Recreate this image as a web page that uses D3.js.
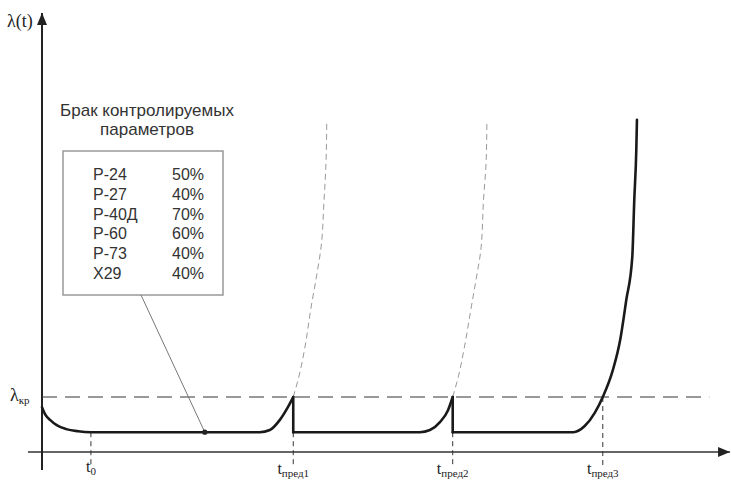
<!DOCTYPE html>
<html>
<head>
<meta charset="utf-8">
<script src="https://cdn.jsdelivr.net/npm/d3@7"></script>
<style>
body { margin: 0; background: #fff; }
svg { display: block; }
.serif { font-family: "Liberation Serif", "DejaVu Serif", serif; fill: #222; }
.legend text { font-family: "Liberation Sans", Arial, sans-serif; font-size: 16px; fill: #333; }
</style>
</head>
<body>
<div class="visHolder"></div>
<script>
// failure rate curve pieces, [t, lambda]
var curveSeg1 = [
  [0, 10.2], [0.45, 8.6], [1.2, 7.3], [2.2, 6.1], [3.6, 5.2], [5.4, 4.7], [7.3, 4.5],
  [32.5, 4.5], [34.0, 5.0], [35.5, 7.3], [36.7, 10.2], [37.5, 12.5]
];
var curveSeg2 = [[37.5, 4.5], [56.4, 4.5], [57.9, 5.0], [59.4, 6.8], [60.6, 9.5], [61.3, 12.5]];
var curveSeg3 = [
  [61.3, 4.5], [79.3, 4.5], [81.0, 5.9], [82.5, 8.9], [83.7, 12.5], [85.2, 18.6],
  [86.3, 25.5], [87.2, 34.5], [88.1, 44.3], [88.4, 57.3], [88.7, 68.6], [88.8, 75.5]
];
// vertical drops after replacement
var dropT = [37.5, 61.3];
// dashed continuations past t_пред1, t_пред2
var contCurve1 = [[37.5, 12.5], [38.4, 17.5], [39.3, 24.3], [40.1, 32.3], [41.0, 40.2], [41.6, 45.9], [42.1, 57.3], [42.4, 66.4], [42.5, 75]];
var contCurve2 = [[61.3, 12.5], [62.2, 17.5], [63.1, 24.3], [64.0, 32.3], [64.9, 40.2], [65.5, 45.9], [65.9, 57.3], [66.3, 66.4], [66.4, 75]];

var lambdaKr = 12.5;
var lambdaFlat = 4.5;
var tickT = [7.3, 37.5, 61.3, 83.7];
var tickTop = [4.5, 4.5, 4.5, 12.5];
var tickSub = ['0', 'пред1', 'пред2', 'пред3'];
var markT = 24.3, markL = 4.5;

var legendNames = ['Р-24', 'Р-27', 'Р-40Д', 'Р-60', 'Р-73', 'Х29'];
var legendValues = ['50%', '40%', '70%', '60%', '40%', '40%'];

var width = 731, height = 481;

var svg = d3.select('.visHolder').append('svg')
  .attr('width', width)
  .attr('height', height);

var xScale = d3.scaleLinear().domain([0, 100]).range([42, 712]);
var yScale = d3.scaleLinear().domain([0, 100]).range([452, 12]);

var defs = svg.append('defs');
defs.append('marker')
  .attr('id', 'arrow')
  .attr('viewBox', '0 0 12 10')
  .attr('refX', 12)
  .attr('refY', 5)
  .attr('markerWidth', 12)
  .attr('markerHeight', 10)
  .attr('markerUnits', 'userSpaceOnUse')
  .attr('orient', 'auto')
  .append('path')
  .attr('d', 'M0,0 L12,5 L0,10 Z')
  .attr('fill', '#222');

// axes
svg.append('line')
  .attr('x1', xScale(-2.1)).attr('y1', yScale(0))
  .attr('x2', xScale(102.7)).attr('y2', yScale(0))
  .attr('stroke', '#333').attr('stroke-width', 1.5)
  .attr('marker-end', 'url(#arrow)');
svg.append('line')
  .attr('x1', xScale(0)).attr('y1', yScale(-4.1))
  .attr('x2', xScale(0)).attr('y2', yScale(99.8))
  .attr('stroke', '#222').attr('stroke-width', 2)
  .attr('marker-end', 'url(#arrow)');

// critical level
svg.append('line')
  .attr('x1', xScale(0)).attr('y1', yScale(lambdaKr))
  .attr('x2', xScale(99.6)).attr('y2', yScale(lambdaKr))
  .attr('stroke', '#333').attr('stroke-width', 1)
  .attr('stroke-dasharray', '15,8');

// tick marker lines
svg.selectAll('.tickline')
  .data(tickT)
  .enter()
  .append('line')
  .attr('class', 'tickline')
  .attr('x1', function(d) { return xScale(d); })
  .attr('x2', function(d) { return xScale(d); })
  .attr('y1', function(d, i) { return yScale(tickTop[i]); })
  .attr('y2', yScale(-3.4))
  .attr('stroke', '#333').attr('stroke-width', 1)
  .attr('stroke-dasharray', '5,4');

var smoothY = d3.line()
  .curve(d3.curveMonotoneY)
  .x(function(d) { return xScale(d[0]); })
  .y(function(d) { return yScale(d[1]); });
var smoothX = d3.line()
  .curve(d3.curveMonotoneX)
  .x(function(d) { return xScale(d[0]); })
  .y(function(d) { return yScale(d[1]); });

[contCurve1, contCurve2].forEach(function(c) {
  svg.append('path')
    .attr('d', smoothY(c))
    .attr('fill', 'none')
    .attr('stroke', '#999').attr('stroke-width', 1)
    .attr('stroke-dasharray', '6,4');
});

[curveSeg1, curveSeg2, curveSeg3].forEach(function(c) {
  svg.append('path')
    .attr('d', smoothX(c))
    .attr('fill', 'none')
    .attr('stroke', '#1a1a1a')
    .attr('stroke-width', 2.6)
    .attr('stroke-linecap', 'round');
});

svg.selectAll('.drop')
  .data(dropT)
  .enter()
  .append('line')
  .attr('class', 'drop')
  .attr('x1', function(d) { return xScale(d); })
  .attr('x2', function(d) { return xScale(d); })
  .attr('y1', yScale(lambdaKr))
  .attr('y2', yScale(lambdaFlat))
  .attr('stroke', '#1a1a1a')
  .attr('stroke-width', 2.6)
  .attr('stroke-linecap', 'round');

// legend
var legend = svg.append('g').attr('class', 'legend');
legend.append('text').attr('x', 147).attr('y', 116).attr('text-anchor', 'middle').style('font-size', '17px').text('Брак контролируемых');
legend.append('text').attr('x', 147).attr('y', 135).attr('text-anchor', 'middle').style('font-size', '17px').text('параметров');
legend.append('rect')
  .attr('x', 63).attr('y', 151).attr('width', 160).attr('height', 144)
  .attr('fill', '#fff').attr('stroke', '#999').attr('stroke-width', 1.5);
legend.selectAll('.lname')
  .data(legendNames)
  .enter()
  .append('text')
  .attr('x', 93)
  .attr('y', function(d, i) { return 180 + i * 19.8; })
  .text(function(d) { return d; });
legend.selectAll('.lval')
  .data(legendValues)
  .enter()
  .append('text')
  .attr('x', 172)
  .attr('y', function(d, i) { return 180 + i * 19.8; })
  .text(function(d) { return d; });

svg.append('line')
  .attr('x1', 141).attr('y1', 295)
  .attr('x2', xScale(markT)).attr('y2', yScale(markL))
  .attr('stroke', '#777').attr('stroke-width', 1);
svg.append('circle')
  .attr('cx', xScale(markT)).attr('cy', yScale(markL))
  .attr('r', 2.6).attr('fill', '#222');

// labels
svg.append('text')
  .attr('x', 7).attr('y', 27)
  .style('font-family', '"Liberation Serif", "DejaVu Serif", serif')
  .style('font-size', '18px')
  .style('fill', '#222')
  .text('λ(t)');

var kr = svg.append('text').attr('class', 'serif').attr('x', 10).attr('y', yScale(lambdaKr) + 4).style('font-size', '18px');
kr.append('tspan').text('λ');
kr.append('tspan').attr('dy', 3).style('font-size', '11px').text('кр');

svg.selectAll('.tlabel')
  .data(tickT)
  .enter()
  .append('text')
  .attr('class', 'serif tlabel')
  .attr('x', function(d) { return xScale(d); })
  .attr('y', function(d, i) { return i === 0 ? 472 : 474; })
  .attr('text-anchor', 'middle')
  .style('font-size', '16px')
  .each(function(d, i) {
    var t = d3.select(this);
    t.append('tspan').text('t');
    t.append('tspan').attr('dy', 3).style('font-size', '11px').text(tickSub[i]);
  });
</script>
</body>
</html>
